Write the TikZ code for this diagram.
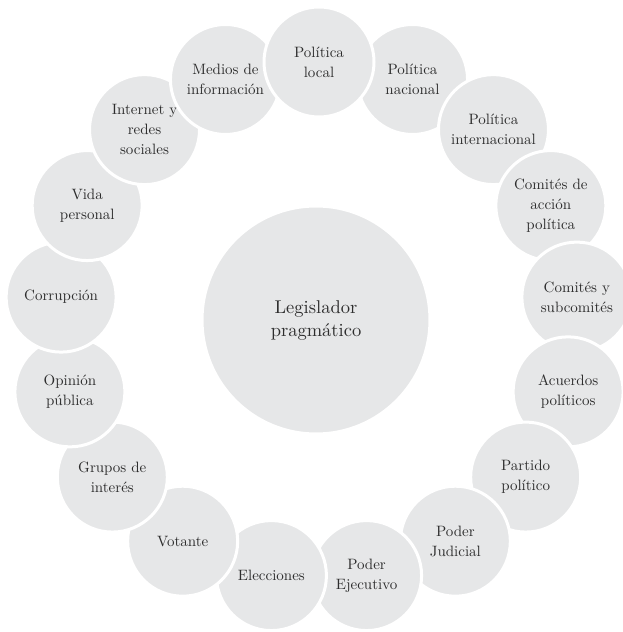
\documentclass[tikz,border=0pt]{standalone}
\usepackage{fontspec}
\setmainfont{lmroman10-regular.otf}
\usetikzlibrary{positioning}

\definecolor{bubblegray}{RGB}{230,231,232}
\definecolor{inkgray}{RGB}{45,45,45}

\tikzset{
    bubble/.style={circle, fill=bubblegray, draw=white, line width=3pt,
        minimum size=110pt, inner sep=0pt, align=center, text=inkgray,
        font=\fontsize{15}{20}\selectfont},
    hub/.style={bubble, minimum size=228pt, font=\fontsize{18.5}{23}\selectfont}
}

\begin{document}
\begin{tikzpicture}[x=1pt, y=1pt]
    \useasboundingbox (0,0) rectangle (623,632);

    % Centre circle
    \node[hub] (legislador) at (316,312) {Legislador\\pragmático};

    % Outer ring, clockwise; each circle lies over the one before it
    \foreach \i/\name/\txt in {
        1/nacional/{Política\\nacional},
        2/internacional/{Política\\internacional},
        3/cap/{Comités de\\acción\\política},
        4/subcomites/{Comités y\\subcomités},
        5/acuerdos/{Acuerdos\\políticos},
        6/partido/{Partido\\político},
        7/judicial/{Poder\\Judicial},
        8/ejecutivo/{Poder\\Ejecutivo},
        9/elecciones/{Elecciones},
        10/votante/{Votante},
        11/grupos/{Grupos de\\interés},
        12/opinion/{Opinión\\pública},
        13/corrupcion/{Corrupción},
        14/vida/{Vida\\personal},
        15/internet/{Internet y\\redes\\sociales},
        16/medios/{Medios de\\información},
        17/local/{Política\\local}}
        \node[bubble] (\name) at ({319+259*cos(90-\i*360/17)}, {311+259*sin(90-\i*360/17)}) {\txt};
\end{tikzpicture}
\end{document}
